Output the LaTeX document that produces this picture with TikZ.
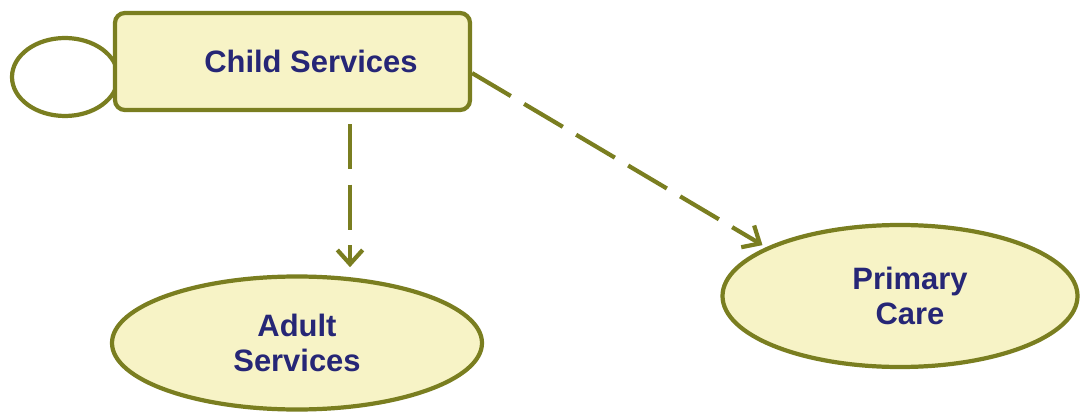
\documentclass[tikz,border=0pt]{standalone}
\usepackage{fontspec}
\setmainfont{Liberation Sans}
\usetikzlibrary{shapes.geometric, arrows.meta, positioning, calc}
\definecolor{olivedge}{RGB}{122, 126, 32}
\definecolor{paleyellow}{RGB}{247, 243, 198}
\definecolor{navytext}{RGB}{38, 38, 118}

\begin{document}
\begin{tikzpicture}[
  usecase/.style={draw=olivedge, fill=paleyellow, line width=3pt, ellipse, align=center, inner sep=0pt, font=\fontsize{22}{25}\selectfont\bfseries, text=navytext},
  flow/.style={olivedge, line width=3pt, dash pattern=on 32pt off 11pt, -{Straight Barb[length=10pt, width=18pt]}}
]
  \useasboundingbox (0,0) rectangle (27.025, 10.3);

  % Port and main box
  \node[draw=olivedge, fill=white, line width=3pt, ellipse, minimum width=2.65cm, minimum height=1.95cm] (port) at (1.625, 8.375) {};
  \node[draw=olivedge, fill=paleyellow, line width=3pt, rounded corners=7pt, minimum width=8.875cm, minimum height=2.425cm, font=\fontsize{22}{25}\selectfont\bfseries, text=navytext] (child) at (7.3125, 8.7625) {\hspace*{0.92cm}Child Services};

  % Use cases
  \node[usecase, minimum width=9.25cm, minimum height=3.325cm] (adult) at (7.425, 1.725) {Adult\\Services};
  \node[usecase, minimum width=8.875cm, minimum height=3.55cm] (care) at (22.5, 2.9) {\hspace*{0.5cm}Primary\\\hspace*{0.5cm}Care};

  % Dependencies
  \draw[flow, shorten <=0.3cm, shorten >=0.18cm] ([xshift=1.4375cm]child.south) -- ([xshift=1.4375cm]child.south |- adult.north);
  \draw[flow, shorten >=3pt] ([yshift=-0.29cm]child.east) -- (care.160);
\end{tikzpicture}
\end{document}
